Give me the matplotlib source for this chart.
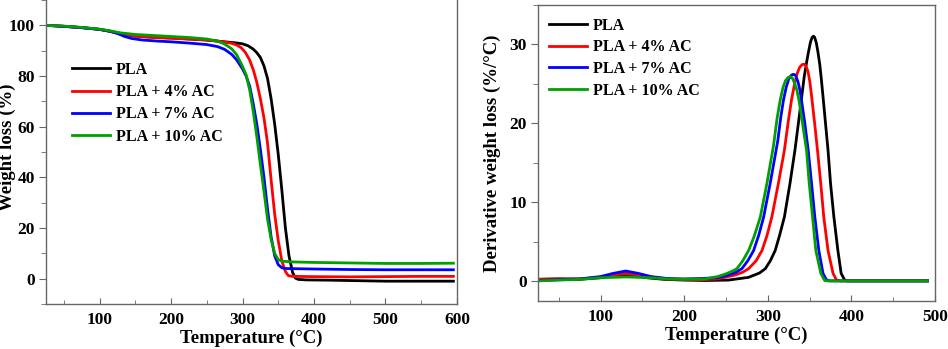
import matplotlib
matplotlib.use('Agg')
import matplotlib.pyplot as plt
from matplotlib.ticker import MultipleLocator

plt.rcParams['font.family'] = ['Liberation Serif', 'DejaVu Serif']
plt.rcParams['font.weight'] = 'bold'

labels = ['PLA', 'PLA + 4% AC', 'PLA + 7% AC', 'PLA + 10% AC']
colors = ['#000000', '#ff0000', '#0000ff', '#00a000']

# TGA - weight loss (%)
tga_pla_t = [25, 50, 75, 100, 115, 130, 150, 175, 200, 225, 250, 275, 290, 300, 308, 315, 320, 325,
             330, 335, 340, 345, 350, 355, 360, 365, 370, 374, 378, 390, 420, 460, 500, 550, 595]
tga_pla_w = [100, 99.6, 99.1, 98.4, 97.7, 96.6, 95.8, 95.3, 95.0, 94.6, 94.2, 93.5, 93.1, 92.7, 91.9, 90.6, 89.2, 87.3,
             84.0, 79.0, 71.0, 61.0, 49.0, 35.0, 20.0, 9.0, 2.5, 0.2, -0.3, -0.5, -0.6, -0.8, -1.0, -1.0, -1.0]

tga_4_t = [25, 50, 75, 100, 115, 130, 150, 175, 200, 225, 250, 270, 285, 292, 298, 304, 310, 315, 320,
           325, 330, 335, 340, 345, 350, 355, 360, 364, 370, 400, 450, 500, 550, 595]
tga_4_w = [100, 99.6, 99.1, 98.4, 97.6, 96.5, 95.7, 95.2, 94.9, 94.6, 94.2, 93.6, 92.9, 92.2, 91.2, 89.3, 86.3, 82.5, 77.5,
           71.0, 63.5, 53.5, 39.0, 25.5, 15.0, 7.0, 2.8, 1.2, 0.9, 0.8, 0.7, 0.8, 0.9, 0.9]

tga_7_t = [25, 50, 75, 100, 115, 125, 135, 145, 160, 180, 200, 225, 250, 265, 275, 285, 292, 300, 305,
           310, 315, 320, 325, 330, 335, 340, 345, 350, 355, 360, 400, 450, 500, 550, 595]
tga_7_w = [100, 99.6, 99.1, 98.4, 97.6, 96.8, 95.6, 94.8, 94.2, 93.8, 93.5, 93.0, 92.4, 91.6, 90.5, 88.5, 86.3, 82.8, 80.0,
           76.0, 69.0, 61.0, 51.0, 40.0, 27.5, 16.5, 9.0, 5.5, 4.3, 4.0, 3.8, 3.6, 3.5, 3.5, 3.5]

tga_10_t = [25, 50, 75, 100, 115, 130, 150, 175, 200, 225, 250, 265, 275, 285, 292, 300, 305, 310, 315,
            320, 325, 330, 335, 340, 345, 350, 355, 370, 400, 450, 500, 550, 595]
tga_10_w = [100, 99.7, 99.2, 98.5, 97.8, 97.0, 96.4, 96.0, 95.6, 95.2, 94.6, 93.8, 92.6, 90.7, 88.3, 83.8, 80.5, 74.5, 66.0,
            56.0, 45.0, 34.5, 23.5, 15.5, 10.0, 7.5, 6.9, 6.6, 6.4, 6.2, 6.0, 6.0, 6.1]

# DTG - derivative weight loss (%/°C)
dtg_pla_t = [25, 50, 75, 100, 115, 128, 140, 155, 175, 200, 225, 253, 277, 290, 297, 303, 308.8, 314, 319.8,
             326.5, 332.4, 337, 340.3, 343.5, 346.3, 348.5, 351, 353, 354.5, 356, 358, 360, 362.2, 364, 366,
             369, 372, 375, 379, 383.8, 387.7, 391.7, 395, 420, 460, 491]
dtg_pla_v = [0.25, 0.3, 0.25, 0.45, 0.7, 0.85, 0.75, 0.45, 0.25, 0.15, 0.1, 0.15, 0.5, 1.05, 1.6, 2.6, 3.9, 5.8, 8.15,
             12.4, 16.6, 20.4, 23.2, 25.9, 27.7, 29.0, 30.3, 30.9, 31.05, 30.9, 30.2, 29.0, 27.4, 25.6, 23.4,
             20.0, 16.6, 12.4, 8.15, 3.9, 1.0, 0.2, 0.05, 0.05, 0.05, 0.05]

dtg_4_t = [25, 50, 75, 100, 115, 130, 145, 160, 180, 200, 220, 240, 261, 270, 277, 286, 293, 299, 304.8, 312.6,
           319.8, 324.5, 328.5, 332, 335, 338, 341, 343.2, 345.5, 348, 350.2, 352.2, 356, 359.4, 363.3,
           366.9, 372, 378, 381.9, 386, 420, 460, 491]
dtg_4_v = [0.25, 0.3, 0.3, 0.5, 0.8, 1.0, 0.8, 0.5, 0.3, 0.2, 0.2, 0.3, 0.8, 1.15, 1.6, 2.6, 3.9, 5.8, 8.15, 12.4,
           16.6, 20.3, 23.1, 25.0, 26.3, 27.1, 27.45, 27.5, 27.3, 26.6, 25.3, 23.6, 20.0, 16.6, 12.4,
           8.15, 3.9, 1.0, 0.2, 0.05, 0.05, 0.05, 0.05]

dtg_7_t = [25, 50, 75, 100, 115, 130, 145, 160, 180, 200, 220, 240, 253, 262, 269, 276, 283, 289, 295, 302.8,
           311.9, 315.5, 318.6, 322, 325, 328, 330, 331.7, 333.5, 336, 338, 339.6, 344, 348.3, 352.3,
           356.2, 361, 366, 370, 374, 420, 460, 491]
dtg_7_v = [0.1, 0.2, 0.3, 0.6, 1.0, 1.3, 1.0, 0.6, 0.35, 0.3, 0.35, 0.45, 0.8, 1.15, 1.6, 2.6, 3.9, 5.8, 8.15, 12.4,
           17.8, 20.8, 22.9, 24.6, 25.6, 26.1, 26.2, 26.2, 26.0, 25.3, 24.4, 23.4, 20.2, 16.6, 12.4,
           8.15, 3.9, 1.0, 0.2, 0.05, 0.05, 0.05, 0.05]

dtg_10_t = [25, 50, 75, 100, 130, 160, 180, 200, 225, 240, 250, 257, 263, 270, 277, 284, 291, 298.9, 306.8,
            311, 314.7, 318, 321, 324, 326, 327.7, 329.5, 332, 334.5, 337.3, 341.5, 346.3, 349.5, 353.5,
            357.4, 363.4, 368, 372, 420, 460, 491]
dtg_10_v = [0.05, 0.15, 0.25, 0.45, 0.55, 0.45, 0.3, 0.25, 0.3, 0.6, 0.95, 1.25, 1.6, 2.6, 3.9, 5.8, 8.15, 12.4, 17.2,
            20.6, 22.9, 24.5, 25.4, 25.8, 25.9, 25.9, 25.7, 25.1, 24.3, 22.9, 20.0, 16.6, 12.4, 8.15,
            3.9, 1.0, 0.1, 0.05, 0.05, 0.05, 0.05]

fig = plt.figure(figsize=(9.48, 3.49), dpi=100)
ax1 = fig.add_axes([0.0485, 0.129, 0.4335, 0.871])
ax2 = fig.add_axes([0.5675, 0.1375, 0.4188, 0.8482])

tga = [(tga_pla_t, tga_pla_w), (tga_4_t, tga_4_w), (tga_7_t, tga_7_w), (tga_10_t, tga_10_w)]
dtg = [(dtg_pla_t, dtg_pla_v), (dtg_4_t, dtg_4_v), (dtg_7_t, dtg_7_v), (dtg_10_t, dtg_10_v)]

for (t, w), c, lab in zip(tga, colors, labels):
    ax1.plot(t, w, color=c, lw=2, label=lab, solid_joinstyle='round')
for (t, v), c, lab in zip(dtg, colors, labels):
    ax2.plot(t, v, color=c, lw=2, label=lab, solid_joinstyle='round')

ax1.set_xlim(25, 600)
ax1.set_ylim(-10, 110)
ax1.xaxis.set_major_locator(MultipleLocator(100))
ax1.xaxis.set_minor_locator(MultipleLocator(50))
ax1.yaxis.set_major_locator(MultipleLocator(20))
ax1.yaxis.set_minor_locator(MultipleLocator(10))
ax1.set_xlabel('Temperature (°C)', fontsize=13.5, fontweight='bold', labelpad=1)
ax1.set_ylabel('Weight loss (%)', fontsize=13.5, fontweight='bold')
ax1.yaxis.set_label_coords(-0.072, 0.516)
ax1.spines['top'].set_visible(False)

ax2.set_xlim(25, 500)
ax2.set_ylim(-2.5, 35)
ax2.xaxis.set_major_locator(MultipleLocator(100))
ax2.xaxis.set_minor_locator(MultipleLocator(50))
ax2.yaxis.set_major_locator(MultipleLocator(10))
ax2.yaxis.set_minor_locator(MultipleLocator(5))
ax2.set_xlabel('Temperature (°C)', fontsize=13.5, fontweight='bold', labelpad=1)
ax2.set_ylabel('Derivative weight loss (%/°C)', fontsize=13.5, fontweight='bold')
ax2.yaxis.set_label_coords(-0.092, 0.5)

for ax in (ax1, ax2):
    for s in ax.spines.values():
        s.set_color('#666666')
        s.set_linewidth(1)
    ax.tick_params(axis='x', which='both', direction='in', colors='#666666', labelcolor='black',
                   labelsize=12.5, pad=6)
    ax.tick_params(axis='y', which='both', direction='out', colors='#666666', labelcolor='black',
                   labelsize=12.5, pad=3)
    ax.tick_params(axis='y', which='major', length=5)
    ax.tick_params(axis='y', which='minor', length=3.5)
    ax.tick_params(axis='x', which='major', length=4)
    ax.tick_params(axis='x', which='minor', length=3)
    for lab in ax.get_xticklabels() + ax.get_yticklabels():
        lab.set_fontweight('bold')

ax1.legend(loc='upper left', bbox_to_anchor=(0.048, 0.818), frameon=False,
           handlelength=2.4, handletextpad=0.35, labelspacing=0.4, borderaxespad=0,
           prop={'weight': 'bold', 'size': 11.5})
ax2.legend(loc='upper left', bbox_to_anchor=(0.012, 0.978), frameon=False,
           handlelength=2.4, handletextpad=0.35, labelspacing=0.35, borderaxespad=0,
           prop={'weight': 'bold', 'size': 11.5})

fig.savefig('out.png', dpi=100)
